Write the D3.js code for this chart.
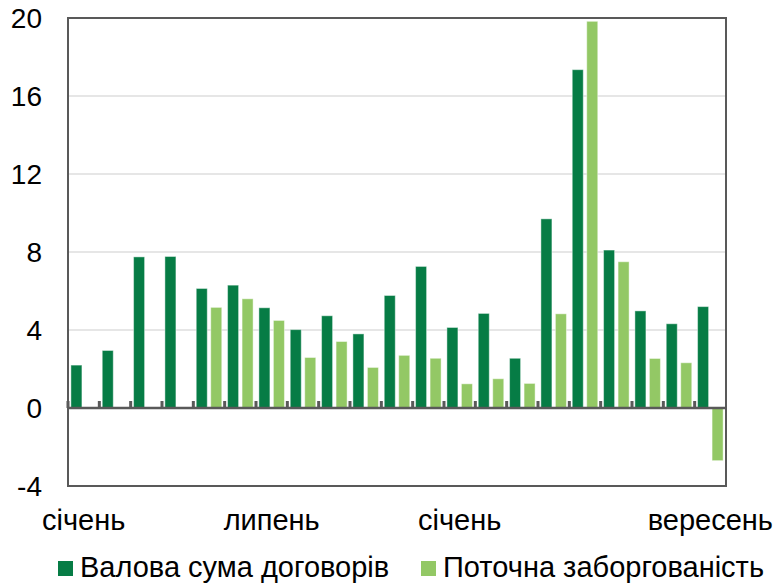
<!DOCTYPE html>
<html>
<head>
<meta charset="utf-8">
<script src="https://cdn.jsdelivr.net/npm/d3@7"></script>
<style>
  body { margin: 0; background: #fff; }
  svg text { font-family: "Liberation Sans", Arial, sans-serif; fill: #000; }
</style>
</head>
<body>
<div id="chart"></div>
<script>
let width = 775, height = 586;
let margin = {top: 18, right: 49, bottom: 100, left: 68};

// monthly data, Jan of year 1 to Sep of year 2
let months = d3.range(21);
let gross = [2.2, 2.95, 7.75, 7.77, 6.13, 6.3, 5.14, 4.02, 4.73, 3.8, 5.77, 7.26, 4.13, 4.85, 2.55, 9.7, 17.35, 8.1, 4.98, 4.32, 5.2];
let current = [null, null, null, null, 5.16, 5.6, 4.49, 2.59, 3.41, 2.08, 2.7, 2.55, 1.24, 1.5, 1.26, 4.83, 19.83, 7.5, 2.54, 2.32, -2.7];
let monthLabels = {0: "січень", 6: "липень", 12: "січень", 20: "вересень"};
let yTicks = [-4, 0, 4, 8, 12, 16, 20];
let seriesNames = ["Валова сума договорів", "Поточна заборгованість"];
let colors = ["#067c45", "#93c865"];

let svg = d3.select("#chart").append("svg")
    .attr("width", width)
    .attr("height", height);

let x = d3.scaleBand()
    .domain(months)
    .range([margin.left, width - margin.right])
    .paddingInner(0)
    .paddingOuter(0);

let y = d3.scaleLinear()
    .domain([-4, 20])
    .range([height - margin.bottom, margin.top]);

let inner = d3.scaleBand()
    .domain([0, 1])
    .range([0, x.bandwidth()])
    .paddingInner(0.24)
    .paddingOuter(0.2);

// gridlines
svg.append("g")
    .selectAll("line")
    .data(yTicks.filter(d => d !== 0 && d !== 20 && d !== -4))
    .enter().append("line")
    .attr("x1", margin.left)
    .attr("x2", width - margin.right)
    .attr("y1", d => y(d))
    .attr("y2", d => y(d))
    .attr("stroke", "#dedede")
    .attr("stroke-width", 1.5);

// bars
let series = [gross, current];
series.forEach((vals, s) => {
    svg.append("g")
        .selectAll("rect")
        .data(months.filter(i => vals[i] !== null))
        .enter().append("rect")
        .attr("x", i => x(i) + inner(s))
        .attr("width", inner.bandwidth())
        .attr("y", i => y(Math.max(0, vals[i])))
        .attr("height", i => Math.abs(y(vals[i]) - y(0)))
        .attr("fill", colors[s])
        .attr("stroke", "rgba(255,255,255,0.45)")
        .attr("stroke-width", 1);
});

// tick marks on the zero line
svg.append("g")
    .selectAll("rect")
    .data(months)
    .enter().append("rect")
    .attr("x", i => x(i) - 1.5)
    .attr("y", y(0) - 7)
    .attr("width", 3)
    .attr("height", 7)
    .attr("fill", "#595959");

// zero line
svg.append("line")
    .attr("x1", margin.left)
    .attr("x2", width - margin.right)
    .attr("y1", y(0))
    .attr("y2", y(0))
    .attr("stroke", "#595959")
    .attr("stroke-width", 2.5);

// frame
svg.append("rect")
    .attr("x", margin.left)
    .attr("y", margin.top)
    .attr("width", width - margin.left - margin.right)
    .attr("height", height - margin.top - margin.bottom)
    .attr("fill", "none")
    .attr("stroke", "#595959")
    .attr("stroke-width", 2);

// y labels
svg.append("g")
    .selectAll("text")
    .data(yTicks)
    .enter().append("text")
    .attr("x", 42)
    .attr("y", d => y(d))
    .attr("dy", "0.35em")
    .attr("text-anchor", "end")
    .style("font-size", "28px")
    .text(d => d);

// x labels
svg.append("g")
    .selectAll("text")
    .data(Object.keys(monthLabels).map(Number))
    .enter().append("text")
    .attr("x", i => x(i) + x.bandwidth() / 2)
    .attr("y", 530)
    .attr("text-anchor", "middle")
    .style("font-size", "29px")
    .text(i => monthLabels[i]);

// legend
let legendX = [58, 421];
let legend = svg.append("g")
    .selectAll("g")
    .data(seriesNames)
    .enter().append("g")
    .attr("transform", (d, i) => `translate(${legendX[i]},0)`);

legend.append("rect")
    .attr("x", 0)
    .attr("y", 561)
    .attr("width", 15)
    .attr("height", 15)
    .attr("fill", (d, i) => colors[i]);

legend.append("text")
    .attr("x", 22)
    .attr("y", 577)
    .style("font-size", "29px")
    .text(d => d);
</script>
</body>
</html>
